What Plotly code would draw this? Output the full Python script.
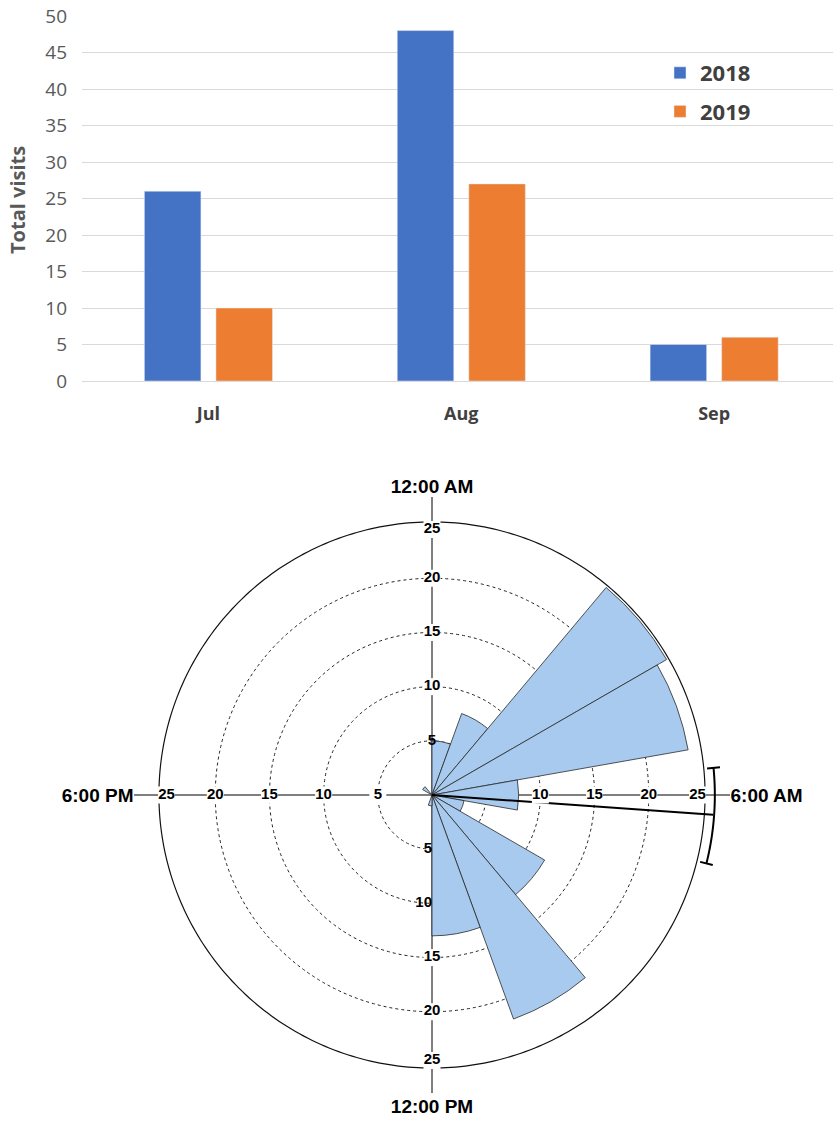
import numpy as np
import plotly.graph_objects as go

# ---------------- data ----------------
months = ["Jul", "Aug", "Sep"]
visits_2018 = [26, 48, 5]
visits_2019 = [10, 27, 6]

# circular histogram: 18 bins of 20 degrees (clockwise from 12:00 AM)
bin_centers = [10, 30, 50, 70, 90, 110, 130, 150, 170, 190, 210, 230, 250, 270, 290, 310, 330, 350]
bin_counts = [5, 8, 25, 24, 8, 3, 12, 22, 13, 1, 0, 0, 0, 0, 0, 1, 0, 0]
bin_width = 20

clock_vals = [0, 90, 180, 270]
clock_text = ["12:00 AM", "6:00 AM", "12:00 PM", "6:00 PM"]
ring_vals = [5, 10, 15, 20]
label_vals = [5, 10, 15, 20, 25]

mean_angle = 94
mean_length = 26
ci_low = 84.5
ci_high = 104
ci_radius = 26.1
outer_radius = 25.2

BLUE = "#4472C4"
ORANGE = "#ED7D31"
SECTOR = "#A8CAEE"
GREY = "#595959"

W, H = 833, 1122


def px(x):
    return x / W


def py(y):
    return 1 - y / H


fig = go.Figure()

# ---------------- bar chart ----------------
fig.add_trace(go.Bar(x=months, y=visits_2018, name="2018", marker_color=BLUE,
                     legendgroup="a", xaxis="x", yaxis="y"))
fig.add_trace(go.Bar(x=months, y=visits_2019, name="2019", marker_color=ORANGE,
                     legendgroup="b", xaxis="x", yaxis="y"))

# ---------------- rose diagram ----------------
fig.add_trace(go.Barpolar(r=bin_counts, theta=bin_centers, width=[bin_width] * len(bin_centers),
                          marker=dict(color=SECTOR, line=dict(color="#2a2a2a", width=0.8)),
                          showlegend=False, subplot="polar"))

circ = np.linspace(0, 360, 361)
fig.add_trace(go.Scatterpolar(r=[outer_radius] * len(circ), theta=circ, mode="lines",
                              line=dict(color="#111", width=1.2), showlegend=False, subplot="polar"))

# mean direction and confidence arc
fig.add_trace(go.Scatterpolar(r=[0, mean_length], theta=[mean_angle, mean_angle], mode="lines",
                              line=dict(color="#000", width=2), showlegend=False, subplot="polar"))
arc = np.linspace(ci_low, ci_high, 40)
fig.add_trace(go.Scatterpolar(r=[ci_radius] * len(arc), theta=arc, mode="lines",
                              line=dict(color="#000", width=2), showlegend=False, subplot="polar"))
for a in (ci_low, ci_high):
    fig.add_trace(go.Scatterpolar(r=[ci_radius - 0.6, ci_radius + 0.6], theta=[a, a], mode="lines",
                                  line=dict(color="#000", width=2), showlegend=False, subplot="polar"))

# radial labels along the four axis lines
lab_r, lab_t, lab_s = [], [], []
mid_r, mid_t, mid_s = [], [], []
plain_r, plain_t, plain_s = [], [], []
for ang in clock_vals:
    for v in label_vals:
        rr = 24.5 if v == 25 else v
        if ang == 90 and v == 5:
            continue  # hidden under sector
        if ang == 180 and v in (5, 10):
            plain_r.append(rr); plain_t.append(ang); plain_s.append(str(v))
            continue
        if ang == 0 and v == 5:
            mid_r.append(rr); mid_t.append(ang); mid_s.append(str(v))
            continue
        lab_r.append(rr); lab_t.append(ang); lab_s.append(str(v))

LABFONT = dict(family="Liberation Sans, Arial", size=15, color="#000", weight="bold")
fig.add_trace(go.Scatterpolar(r=lab_r, theta=lab_t, text=lab_s, mode="markers+text",
                              marker=dict(symbol="square", size=17, color="white"),
                              textposition="middle center", textfont=LABFONT,
                              showlegend=False, subplot="polar", hoverinfo="skip"))
fig.add_trace(go.Scatterpolar(r=mid_r, theta=mid_t, text=mid_s, mode="text",
                              textposition="middle center", textfont=LABFONT,
                              showlegend=False, subplot="polar", hoverinfo="skip"))
fig.add_trace(go.Scatterpolar(r=plain_r, theta=plain_t, text=plain_s, mode="text",
                              textposition="middle left", textfont=LABFONT,
                              showlegend=False, subplot="polar", hoverinfo="skip"))

fig.update_layout(
    width=W, height=H,
    margin=dict(l=0, r=0, t=0, b=0),
    paper_bgcolor="white", plot_bgcolor="white",
    barmode="group", bargap=0.434, bargroupgap=0.21,
    xaxis=dict(domain=[px(82), 1.0], range=[-0.5, 2.47], showgrid=False, showline=False,
               zeroline=False, ticks="", ticklabelstandoff=20, automargin=False,
               tickfont=dict(family="Open Sans", size=18, color="#404040", weight="bold"), anchor="y"),
    yaxis=dict(domain=[py(381), py(16)], range=[0, 50], dtick=5, showgrid=True,
               gridcolor="#d9d9d9", gridwidth=1.3, zeroline=True, zerolinecolor="#d9d9d9",
               zerolinewidth=1.3, showline=False, ticks="", ticklabelstandoff=14, automargin=False,
               ticklabeloverflow="allow",
               tickfont=dict(family="Open Sans", size=19, color=GREY), anchor="x"),
    legend=dict(x=px(660), y=py(52), xanchor="left", yanchor="top",
                font=dict(family="Open Sans", size=22, color="#404040", weight="bold"),
                bgcolor="rgba(0,0,0,0)", tracegroupgap=7, itemwidth=30),
    polar=dict(
        domain=dict(x=[px(134), px(730)], y=[py(1093), py(497)]),
        bgcolor="white",
        radialaxis=dict(range=[0, 27.5], tickvals=ring_vals, showticklabels=False, ticks="",
                        showline=False, gridcolor="#222", griddash="dot", gridwidth=1.2),
        angularaxis=dict(rotation=90, direction="clockwise", tickvals=clock_vals, ticktext=clock_text,
                         showline=False, ticks="", gridcolor="#000", gridwidth=1.2,
                         tickfont=dict(family="Liberation Sans, Arial", size=19, color="#000", weight="bold")),
    ),
)

fig.add_annotation(text="Total visits", xref="paper", yref="paper", x=px(18), y=py(200),
                   xanchor="center", yanchor="middle", textangle=-90, showarrow=False,
                   font=dict(family="Open Sans", size=20, color=GREY, weight="bold"))

fig.write_html("out.html", config={"displayModeBar": False},
               post_script="document.body.style.margin='0';document.body.style.overflow='hidden';")
